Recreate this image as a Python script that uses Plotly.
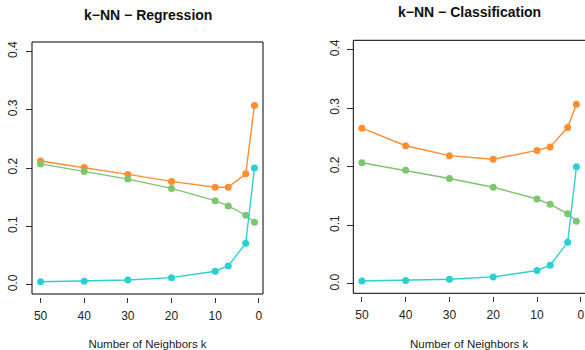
import plotly.graph_objects as go

W, H = 585, 350

k = [50, 40, 30, 20, 10, 7, 3, 1]

reg_error = [0.212, 0.201, 0.189, 0.177, 0.167, 0.167, 0.190, 0.307]
reg_bias = [0.207, 0.194, 0.181, 0.165, 0.144, 0.135, 0.119, 0.107]
reg_var = [0.005, 0.006, 0.008, 0.012, 0.023, 0.032, 0.071, 0.200]

cls_error = [0.266, 0.236, 0.219, 0.213, 0.228, 0.234, 0.267, 0.307]
cls_bias = [0.207, 0.194, 0.180, 0.165, 0.145, 0.136, 0.120, 0.107]
cls_var = [0.005, 0.006, 0.008, 0.012, 0.023, 0.032, 0.071, 0.200]

y_ticks = [0.0, 0.1, 0.2, 0.3, 0.4]
x_ticks = [50, 40, 30, 20, 10, 0]
titles = ["k\u2212NN \u2212 Regression", "k\u2212NN \u2212 Classification"]
x_title = "Number of Neighbors k"

ORANGE = "#FF8E30"
GREEN = "#7FC46F"
CYAN = "#2CD0D2"
FONT = "Liberation Sans, Arial, Helvetica, sans-serif"

fig = go.Figure()

panels = [
    (reg_error, reg_bias, reg_var, "x", "y"),
    (cls_error, cls_bias, cls_var, "x2", "y2"),
]
for err, bias, var, xa, ya in panels:
    for vals, col, nm in [(err, ORANGE, "Error"), (bias, GREEN, "Bias"), (var, CYAN, "Variance")]:
        fig.add_trace(go.Scatter(
            x=k, y=vals, mode="lines+markers", name=nm, xaxis=xa, yaxis=ya,
            line=dict(color=col, width=1.4),
            marker=dict(color=col, size=7),
            showlegend=False,
        ))

def px_x(v):
    return v / W

def px_y(v):
    return (H - v) / H

common_x = dict(
    range=[51.96, -0.96], tickvals=x_ticks, ticktext=[str(t) for t in x_ticks],
    ticks="outside", ticklen=5, tickwidth=1, tickcolor="#333",
    showline=False, showgrid=False, zeroline=False,
    tickfont=dict(family=FONT, size=12, color="#222"),
    ticklabelstandoff=3,
    title=dict(text=x_title, font=dict(family=FONT, size=11.5, color="#222"), standoff=19),
    anchor="free",
)
common_y = dict(
    range=[-0.016, 0.416], tickvals=y_ticks, ticktext=["0.0", "0.1", "0.2", "0.3", "0.4"],
    ticks="outside", ticklen=6, tickwidth=1, tickcolor="#333",
    showline=False, showgrid=False, zeroline=False, tickangle=-90,
    tickfont=dict(family=FONT, size=12, color="#222"),
    ticklabelstandoff=4,
    anchor="free",
)

fig.update_layout(
    width=W, height=H,
    margin=dict(l=0, r=0, t=0, b=0),
    paper_bgcolor="white", plot_bgcolor="white",
    xaxis=dict(common_x, domain=[px_x(32), px_x(263)], position=px_y(296.5)),
    yaxis=dict(common_y, domain=[px_y(294), px_y(42)], position=px_x(32)),
    xaxis2=dict(common_x, domain=[px_x(353.3), 1.0], position=px_y(295.5)),
    yaxis2=dict(common_y, domain=[px_y(293.3), px_y(40.3)], position=px_x(353.3)),
)

# Frames
fig.add_shape(type="rect", xref="x domain", yref="y domain", x0=0, x1=1, y0=0, y1=1,
              line=dict(color="black", width=1))
for (x0, y0, x1, y1) in [(0, 0, 1.05, 0), (0, 1, 1.05, 1), (0, 0, 0, 1)]:
    fig.add_shape(type="line", xref="x2 domain", yref="y2 domain", x0=x0, x1=x1, y0=y0, y1=y1,
                  line=dict(color="black", width=1))

# Titles
for txt, cx, cy in [(titles[0], 148, 15), (titles[1], 469, 12)]:
    fig.add_annotation(text="<b>" + txt + "</b>", xref="paper", yref="paper",
                       x=px_x(cx), y=px_y(cy), showarrow=False,
                       xanchor="center", yanchor="middle",
                       font=dict(family=FONT, size=14, color="#111"))

fig.write_html("out.html")
